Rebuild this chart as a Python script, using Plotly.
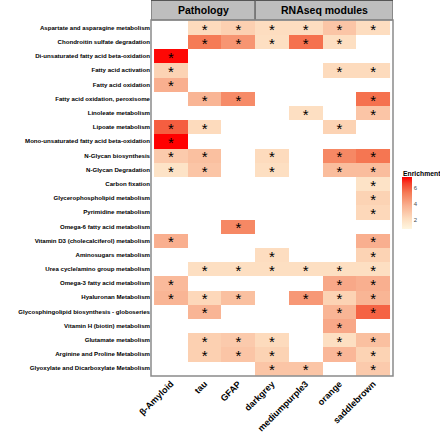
import plotly.graph_objects as go

pathways = [
    "Aspartate and asparagine metabolism",
    "Chondroitin sulfate degradation",
    "Di-unsaturated fatty acid beta-oxidation",
    "Fatty acid activation",
    "Fatty acid oxidation",
    "Fatty acid oxidation, peroxisome",
    "Linoleate metabolism",
    "Lipoate metabolism",
    "Mono-unsaturated fatty acid beta-oxidation",
    "N-Glycan biosynthesis",
    "N-Glycan Degradation",
    "Carbon fixation",
    "Glycerophospholipid metabolism",
    "Pyrimidine metabolism",
    "Omega-6 fatty acid metabolism",
    "Vitamin D3 (cholecalciferol) metabolism",
    "Aminosugars metabolism",
    "Urea cycle/amino group metabolism",
    "Omega-3 fatty acid metabolism",
    "Hyaluronan Metabolism",
    "Glycosphingolipid biosynthesis - globoseries",
    "Vitamin H (biotin) metabolism",
    "Glutamate metabolism",
    "Arginine and Proline Metabolism",
    "Glyoxylate and Dicarboxylate Metabolism",
]

traits = ["β-Amyloid", "tau", "GFAP", "darkgrey", "mediumpurple3", "orange", "saddlebrown"]

groups = ["Pathology", "RNAseq modules"]
group_sizes = [3, 4]

N = None
beta_amyloid = [N, N, 7.3, 2.5, 3.8, N, N, 6.0, 7.4, 2.8, 1.8, N, N, N, N, 3.8, N, N, 3.4, 3.6, N, N, N, N, N]
tau          = [2.2, 5.4, N, N, N, 3.6, N, 2.2, N, 3.2, 3.0, N, N, N, N, N, N, 2.0, N, 2.3, 3.6, N, 2.6, 2.6, N]
gfap         = [2.6, 4.6, N, N, N, 4.9, N, N, N, N, N, N, N, N, 5.0, N, N, 2.0, N, 3.2, N, N, 2.8, 3.0, N]
darkgrey     = [2.1, 2.0, N, N, N, N, N, N, N, 2.2, 2.0, N, N, N, N, N, 2.1, 2.0, N, N, N, N, 2.2, 2.5, 3.0]
mediumpurple3= [2.1, 5.6, N, N, N, N, 2.0, N, N, N, N, N, N, N, N, N, N, 2.0, N, 4.5, N, N, N, N, 3.0]
orange       = [3.0, 2.0, N, 2.2, N, N, N, 2.5, N, 5.0, 3.3, N, N, N, N, N, N, 2.0, 4.0, 2.5, 3.6, 4.0, 2.0, 3.5, N]
saddlebrown  = [2.1, N, N, 2.2, N, 5.6, 3.0, N, N, 5.5, 3.3, 1.8, 2.5, 2.3, N, 3.8, 2.5, 2.0, 3.8, 3.6, 5.9, N, 3.2, 2.5, 2.8]

series = [beta_amyloid, tau, gfap, darkgrey, mediumpurple3, orange, saddlebrown]

# z matrix rows = pathways, cols = traits
z = [[series[j][i] for j in range(len(traits))] for i in range(len(pathways))]

# significance stars (on an overlaid linear axis aligned with the category rows)
STAR_DROP = 0.22  # visual centring of the asterisk glyph within each tile
star_x, star_y = [], []
for i, p in enumerate(pathways):
    for j, t in enumerate(traits):
        if series[j][i] is not None:
            star_x.append(t)
            star_y.append(i + STAR_DROP)

colorscale = [
    [0.0, "#FFF6E0"],
    [0.2, "#FDDDBF"],
    [0.45, "#F9B090"],
    [0.7, "#F57A55"],
    [0.88, "#F5402A"],
    [1.0, "#FF0000"],
]

W, H = 440, 436
ml, mr, mt, mb = 151, 47, 20, 60
pw = W - ml - mr
ph = H - mt - mb
yrange = [len(pathways) - 1 + 0.55, -0.55]

fig = go.Figure()
fig.add_trace(go.Heatmap(
    x=traits, y=pathways, z=z,
    zmin=0.8, zmax=7.4,
    colorscale=colorscale,
    hoverinfo="skip",
    colorbar=dict(
        x=(402 - ml) / pw, xanchor="left",
        y=(H - mb - 203) / ph, yanchor="middle",
        thickness=10, thicknessmode="pixels",
        len=52, lenmode="pixels",
        outlinewidth=0,
        tickvals=[2, 4, 6],
        ticks="",
        tickfont=dict(size=6, color="#4d4d4d", family="Liberation Sans"),
        ypad=0, xpad=0,
    ),
))

fig.add_trace(go.Scatter(
    x=star_x, y=star_y, mode="text", text=["*"] * len(star_x),
    textposition="middle center", yaxis="y2",
    textfont=dict(size=15, color="black", family="Liberation Sans"),
    hoverinfo="skip", showlegend=False,
))

# strips
shapes = []
start = 0
annotations = []
for g, n in zip(groups, group_sizes):
    x0 = start - 0.5 if start > 0 else -0.59
    x1 = start + n - 0.5 if start + n < len(traits) else len(traits) - 1 + 0.59
    shapes.append(dict(type="rect", xref="x", yref="paper", x0=x0, x1=x1,
                       y0=1.0, y1=1 + 19.5 / ph, fillcolor="#BEBEBE",
                       line=dict(color="#555555", width=1), layer="above"))
    annotations.append(dict(xref="x", yref="paper", x=(x0 + x1) / 2, y=1 + 10 / ph,
                            text=g, showarrow=False,
                            font=dict(size=10.5, color="black", family="Liberation Sans", weight="bold"),
                            xanchor="center", yanchor="middle"))
    start += n

shapes.append(dict(type="rect", xref="paper", yref="paper", x0=0, x1=1, y0=0, y1=1,
                   line=dict(color="#8a8a8a", width=1.5), layer="above"))

annotations.append(dict(xref="paper", yref="paper", x=(401 - ml) / pw, y=(H - mb - 173) / ph,
                        text="Enrichment", showarrow=False, xanchor="left", yanchor="middle",
                        font=dict(size=6.8, color="black", family="Liberation Sans", weight="bold")))

fig.update_layout(
    width=W, height=H,
    margin=dict(l=ml, r=mr, t=mt, b=mb, autoexpand=False),
    plot_bgcolor="white", paper_bgcolor="white",
    shapes=shapes, annotations=annotations,
    showlegend=False,
    xaxis=dict(
        type="category", range=[-0.59, len(traits) - 1 + 0.59],
        showgrid=False, zeroline=False, ticks="", tickangle=-45, automargin=False,
        tickfont=dict(size=9, color="black", family="Liberation Sans", weight="bold"),
    ),
    yaxis=dict(
        type="category", range=yrange,
        showgrid=False, zeroline=False, ticks="", ticklen=3, automargin=False,
        tickfont=dict(size=6.1, color="black", family="Liberation Sans", weight="bold"),
    ),
    yaxis2=dict(
        type="linear", overlaying="y", range=yrange,
        showgrid=False, zeroline=False, showticklabels=False, ticks="", automargin=False,
    ),
)

fig.write_html(
    "out.html",
    config={"displayModeBar": False},
    post_script="document.body.style.margin='0';document.body.style.padding='0';document.body.style.overflow='hidden';",
)
